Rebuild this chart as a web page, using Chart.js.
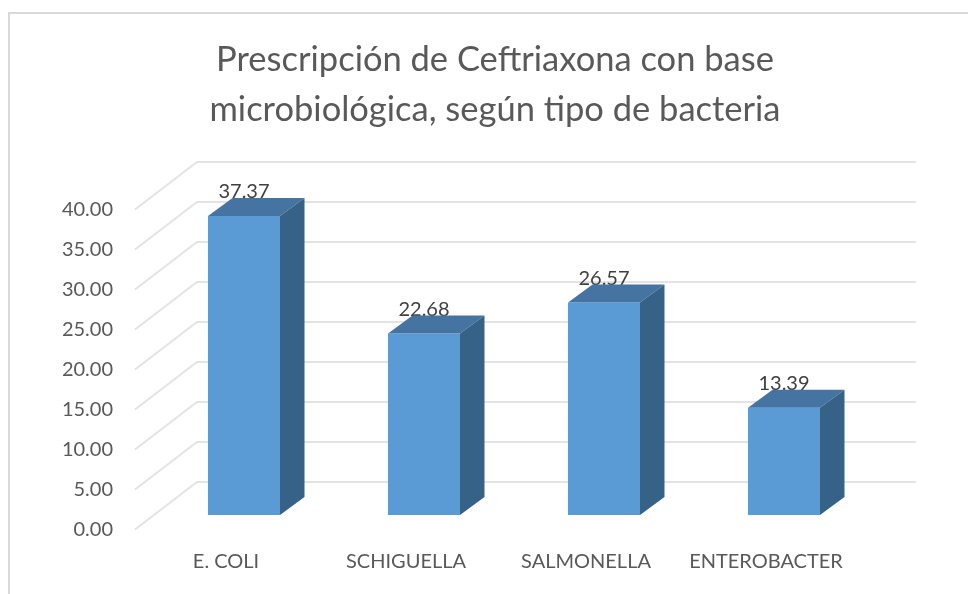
<!DOCTYPE html>
<html>
<head>
<meta charset="utf-8">
<style>html,body{margin:0;padding:0;background:#fff;overflow:hidden}canvas{display:block}</style>
<script src="https://cdn.jsdelivr.net/npm/chart.js@4"></script>
</head>
<body>
<canvas id="c" width="968" height="594"></canvas>
<script>
const categories = ['E. COLI', 'SCHIGUELLA', 'SALMONELLA', 'ENTEROBACTER'];
const seriesValues = [37.37, 22.68, 26.57, 13.39];
const chartTitle = ['Prescripción de Ceftriaxona con base', 'microbiológica, según tipo de bacteria'];
const FONT = 'Lato, Carlito, sans-serif';

const depth3d = {
  id: 'depth3d',
  beforeDraw(chart) {
    const c = chart.ctx;
    c.save();
    c.strokeStyle = '#d9d9d9';
    c.lineWidth = 2;
    c.beginPath();
    c.moveTo(9, 594); c.lineTo(9, 13); c.lineTo(968, 13);
    c.stroke();
    c.restore();
  },
  beforeDatasetsDraw(chart) {
    const c = chart.ctx, y = chart.scales.y;
    c.save();
    c.strokeStyle = '#e3e3e3';
    c.lineWidth = 2;
    y.ticks.forEach(t => {
      const p = y.getPixelForValue(t.value);
      c.beginPath();
      c.moveTo(135, p + 14.5);
      c.lineTo(197, p - 33);
      c.lineTo(916, p - 33);
      c.stroke();
    });
    c.restore();
  },
  afterDatasetsDraw(chart) {
    const c = chart.ctx, dx = 24.5, dy = -18;
    const meta = chart.getDatasetMeta(0);
    c.save();
    c.font = '20px ' + FONT;
    c.fillStyle = '#404040';
    c.textAlign = 'center';
    c.textBaseline = 'middle';
    meta.data.forEach((b, i) => {
      c.fillText(seriesValues[i].toFixed(2), b.x, b.y - 24);
    });
    meta.data.forEach(b => {
      const l = b.x - b.width / 2, r = b.x + b.width / 2, t = b.y, u = b.base;
      c.fillStyle = '#4674a2';
      c.beginPath();
      c.moveTo(l, t); c.lineTo(l + dx, t + dy); c.lineTo(r + dx, t + dy); c.lineTo(r, t);
      c.closePath(); c.fill();
      c.fillStyle = '#376288';
      c.beginPath();
      c.moveTo(r, t); c.lineTo(r + dx, t + dy); c.lineTo(r + dx, u + dy); c.lineTo(r, u);
      c.closePath(); c.fill();
    });
    c.restore();
  }
};

new Chart(document.getElementById('c'), {
  type: 'bar',
  data: {
    labels: categories,
    datasets: [{ data: seriesValues, backgroundColor: '#5b9bd5', borderWidth: 0, barPercentage: 0.4, categoryPercentage: 1 }]
  },
  options: {
    responsive: false,
    animation: false,
    layout: { padding: { left: 50, right: 28, top: 0, bottom: 0 } },
    plugins: {
      legend: { display: false },
      tooltip: { enabled: false },
      title: {
        display: true,
        text: chartTitle,
        color: '#595959',
        font: { family: FONT, size: 34.5, weight: 'normal', lineHeight: 1.449 },
        padding: { top: 35, bottom: 60 }
      }
    },
    scales: {
      x: {
        grid: { display: false },
        border: { display: false },
        afterFit(s) { s.height = 79; },
        ticks: { color: '#595959', font: { family: FONT, size: 20 }, padding: 27, labelOffset: -18, maxRotation: 0, minRotation: 0, autoSkip: false }
      },
      y: {
        min: 0,
        max: 40,
        grid: { display: false },
        border: { display: false },
        afterFit(s) { s.width = 104; },
        ticks: {
          stepSize: 5,
          color: '#595959',
          font: { family: FONT, size: 20 },
          padding: 33,
          labelOffset: 15,
          callback: v => Number(v).toFixed(2)
        }
      },
      yRight: {
        position: 'right',
        min: 0,
        max: 40,
        grid: { display: false },
        border: { display: false },
        ticks: { display: false },
        afterFit(s) { s.width = 66; }
      }
    }
  },
  plugins: [depth3d]
});
</script>
</body>
</html>
